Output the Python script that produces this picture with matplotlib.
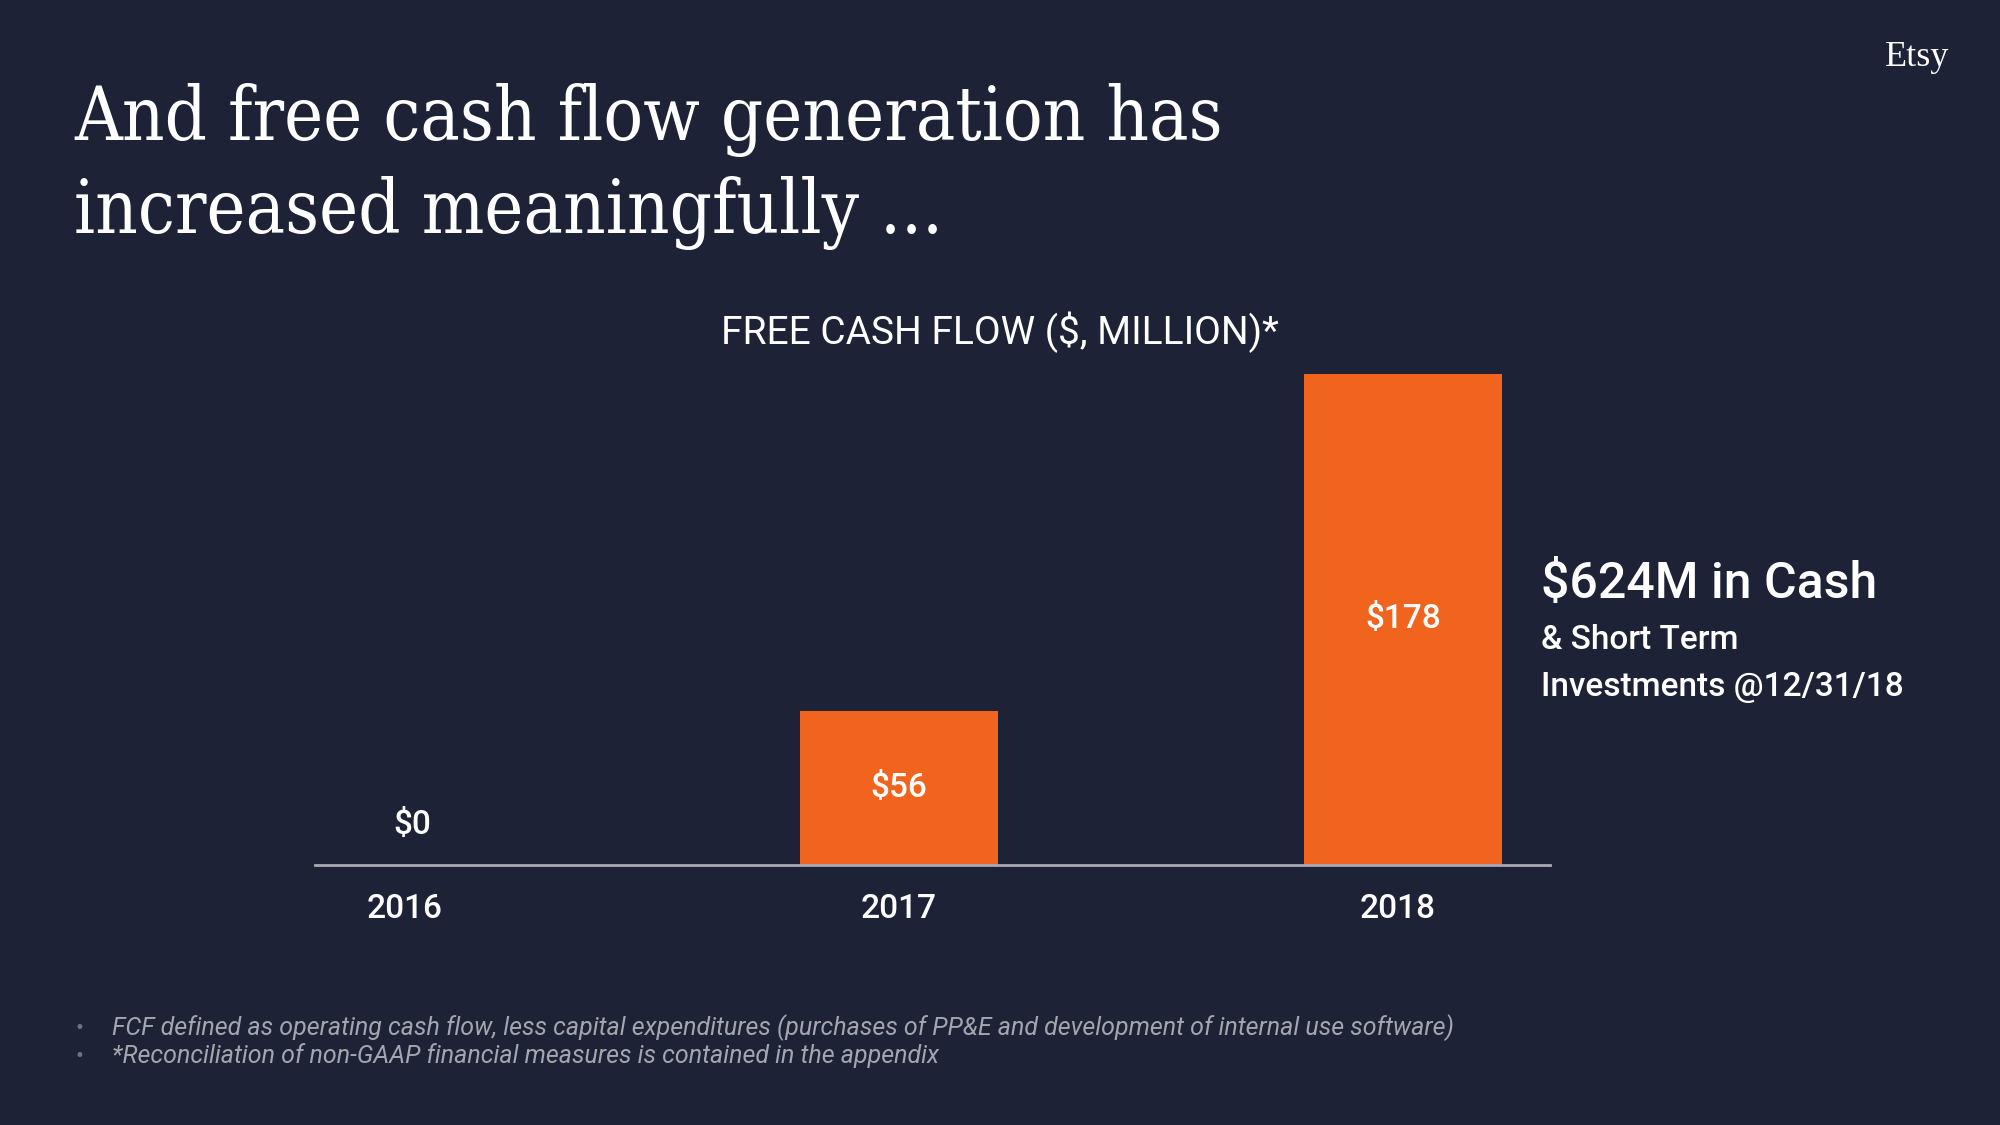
import numpy as np
import matplotlib
matplotlib.use("Agg")
import matplotlib.pyplot as plt

# data
years = ["2016", "2017", "2018"]
fcf = [0, 56, 178]
value_labels = ["$0", "$56", "$178"]
title_lines = ["And free cash flow generation has", "increased meaningfully ..."]
chart_title = "FREE CASH FLOW ($, MILLION)*"
cash_lines = ["$624M in Cash", "& Short Term", "Investments @12/31/18"]
notes = ["FCF defined as operating cash flow, less capital expenditures (purchases of PP&E and development of internal use software)",
         "*Reconciliation of non-GAAP financial measures is contained in the appendix"]

BG = "#1e2236"
ORANGE = "#f1641e"
WHITE = "#ffffff"
GREY = "#a3a5af"

fig = plt.figure(figsize=(20, 11.25), dpi=100, facecolor=BG)
ax = fig.add_axes([0.1575, 0.2311, 0.6175, 0.4365])
ax.set_facecolor(BG)

x = np.arange(len(years))
bars = ax.bar(x, fcf, width=0.392, color=ORANGE, zorder=2)
ax.set_xlim(-0.158, 2.292)
ax.set_ylim(0, 178)

for b, v, lab in zip(bars, fcf, value_labels):
    cx = b.get_x() + b.get_width() / 2
    if v > 0:
        ax.text(cx, v / 2, lab, ha="center", va="center", color=WHITE,
                fontsize=24, family="Roboto", fontweight="medium")
    else:
        ax.annotate(lab, (cx, 0), xytext=(13, 29), textcoords="offset points",
                    ha="center", va="center", color=WHITE,
                    fontsize=24, family="Roboto", fontweight="medium")

for s in ["top", "right", "left"]:
    ax.spines[s].set_visible(False)
ax.spines["bottom"].set_color("#a9a9b5")
ax.spines["bottom"].set_linewidth(2)
ax.spines["bottom"].set_zorder(3)
ax.set_yticks([])
ax.set_xticks(x)
ax.set_xticklabels(years, fontsize=24, family="Roboto", fontweight="medium", color=WHITE)
ax.tick_params(axis="x", length=0, pad=20)
# small nudges so the year labels sit like in the slide
for lbl, dx in zip(ax.get_xticklabels(), [7, 0, -4]):
    lbl.set_transform(lbl.get_transform() + matplotlib.transforms.ScaledTranslation(dx / 72, 0, fig.dpi_scale_trans))

# slide texts
fig.text(0.037, 0.8756, title_lines[0], color=WHITE, fontsize=53,
         family="DejaVu Serif", fontstretch="condensed", va="baseline")
fig.text(0.037, 0.7929, title_lines[1], color=WHITE, fontsize=53,
         family="DejaVu Serif", fontstretch="condensed", va="baseline")
fig.text(0.9745, 0.9413, "Etsy", color=WHITE, fontsize=26,
         family="Liberation Serif", ha="right", va="baseline")

fig.text(0.5, 0.705, chart_title, color=WHITE, fontsize=28, family="Roboto",
         ha="center", va="center")

fig.text(0.7705, 0.4809, cash_lines[0], color=WHITE, fontsize=36,
         family="Roboto", fontweight="medium", va="center")
fig.text(0.7705, 0.4311, cash_lines[1], color=WHITE, fontsize=24,
         family="Roboto", fontweight="medium", va="center")
fig.text(0.7705, 0.3889, cash_lines[2], color=WHITE, fontsize=24,
         family="Roboto", fontweight="medium", va="center")

for yy, note in zip([1 - 1028 / 1125, 1 - 1056 / 1125], notes):
    fig.text(0.0395, yy, "\u2022", color="#707385", fontsize=12, ha="center", va="center")
    fig.text(0.056, yy, note, color=GREY, fontsize=18, family="Roboto",
             style="italic", va="center")

fig.savefig("out.png", dpi=100, facecolor=BG)
